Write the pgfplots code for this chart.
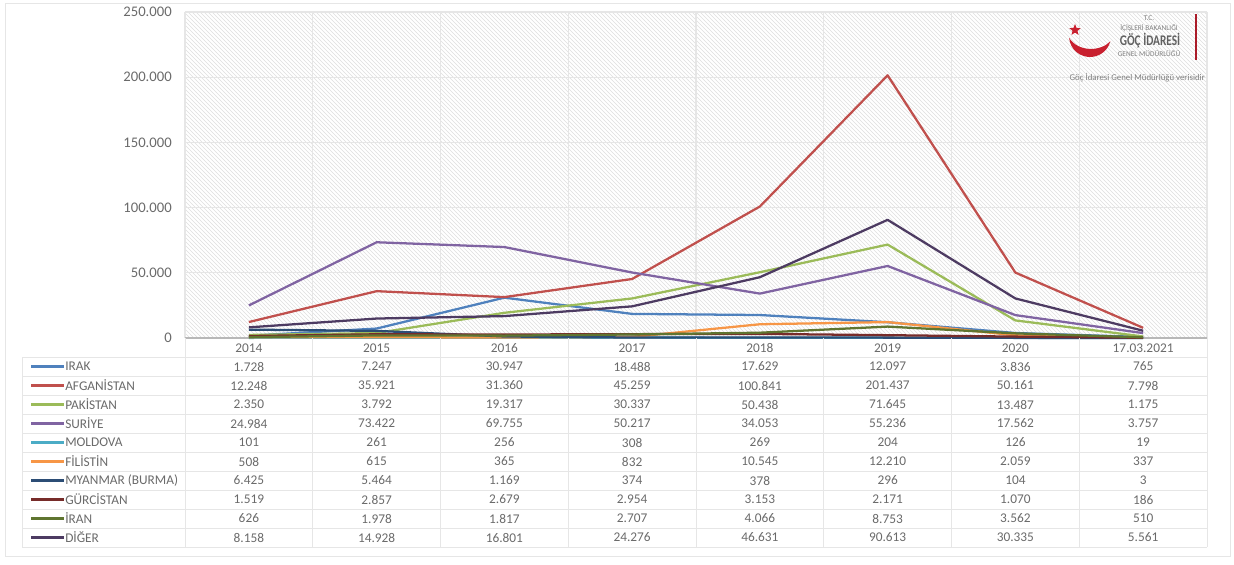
\documentclass[border=0pt]{standalone}
\usepackage{fontspec}
\setmainfont{Carlito}
\usepackage{pgfplots}
\usepackage{pgfplotstable}
\pgfplotsset{compat=1.18}
\usetikzlibrary{patterns,shapes.geometric}

\definecolor{txt}{HTML}{6A6A6A}
\definecolor{gridc}{HTML}{E6E6E6}
\definecolor{cIrak}{HTML}{4F81BD}
\definecolor{cAfg}{HTML}{C0504D}
\definecolor{cPak}{HTML}{9BBB59}
\definecolor{cSur}{HTML}{8064A2}
\definecolor{cMol}{HTML}{4BACC6}
\definecolor{cFil}{HTML}{F79646}
\definecolor{cMya}{HTML}{2C4D75}
\definecolor{cGur}{HTML}{772C2A}
\definecolor{cIran}{HTML}{5F7530}
\definecolor{cDig}{HTML}{4D3B62}
\definecolor{logored}{HTML}{C8202F}

% integer with "." as thousands separator (values < 1.000.000)
\newcommand\thou[1]{%
  \ifnum#1<1000 #1\else
    \edef\tmpa{\the\numexpr(#1-500)/1000\relax}%
    \edef\tmpb{\the\numexpr#1-\tmpa*1000\relax}%
    \tmpa.\ifnum\tmpb<100 0\fi\ifnum\tmpb<10 0\fi\tmpb
  \fi}

% years in rows, countries in columns
\pgfplotstableread{
x irak afg pak sur mol fil mya gur iran dig
0 1728 12248 2350 24984 101 508 6425 1519 626 8158
1 7247 35921 3792 73422 261 615 5464 2857 1978 14928
2 30947 31360 19317 69755 256 365 1169 2679 1817 16801
3 18488 45259 30337 50217 308 832 374 2954 2707 24276
4 17629 100841 50438 34053 269 10545 378 3153 4066 46631
5 12097 201437 71645 55236 204 12210 296 2171 8753 90613
6 3836 50161 13487 17562 126 2059 104 1070 3562 30335
7 765 7798 1175 3757 19 337 3 186 510 5561
}\data

\begin{document}
\begin{tikzpicture}
\begin{scope}[x=0.75pt,y=-0.75pt]
  \path[use as bounding box] (0,0) rectangle (1234,564);
  \draw[gridc, line width=0.6pt] (5,3) rectangle (1230,556);
\end{scope}

\begin{axis}[
    at={(185*0.75pt,-338*0.75pt)},
    anchor=south west,
    scale only axis,
    width=766.5pt,
    height=244.5pt,
    xmin=-0.5, xmax=7.5,
    ymin=0, ymax=250000,
    clip=false,
    axis background/.style={pattern=north west lines, pattern color=black!13},
    axis x line*=bottom,
    axis y line*=left,
    x axis line style={draw=black!28, line width=0.8pt, -},
    y axis line style={draw=none},
    major tick length=0pt,
    minor tick length=0pt,
    xtick={0,...,7},
    xticklabels={2014,2015,2016,2017,2018,2019,2020,17.03.2021},
    minor xtick={-0.5,0.5,...,7.5},
    ytick={0,50000,...,250000},
    scaled y ticks=false,
    ymajorgrids,
    xminorgrids,
    major grid style={gridc, line width=1pt},
    minor grid style={gridc, line width=1pt},
    tick label style={text=txt},
    yticklabel style={font=\fontsize{11}{13}\selectfont, inner sep=0pt, xshift=-9.75pt,
      /pgf/number format/.cd, fixed, 1000 sep={.}, assume math mode=true},
    xticklabel style={font=\fontsize{10}{12}\selectfont, anchor=center, inner sep=0pt, yshift=-7.5pt},
    every axis plot/.append style={line width=1.7pt, line join=round, no markers},
]
\addplot[cIrak] table[x=x, y=irak] {\data};
\addplot[cAfg]  table[x=x, y=afg]  {\data};
\addplot[cPak]  table[x=x, y=pak]  {\data};
\addplot[cSur]  table[x=x, y=sur]  {\data};
\addplot[cMol]  table[x=x, y=mol]  {\data};
\addplot[cFil]  table[x=x, y=fil]  {\data};
\addplot[cMya]  table[x=x, y=mya]  {\data};
\addplot[cGur]  table[x=x, y=gur]  {\data};
\addplot[cIran] table[x=x, y=iran] {\data};
\addplot[cDig]  table[x=x, y=dig]  {\data};
\end{axis}

\begin{scope}[x=0.75pt,y=-0.75pt]
  % data table grid
  \foreach \r in {0,...,10}
    \draw[gridc, line width=0.7pt] (22,{357+19*\r}) -- (1207,{357+19*\r});
  \foreach \c in {0,...,8}
    \draw[gridc, line width=0.7pt] ({185+127.75*\c},338) -- ({185+127.75*\c},547);
  \draw[gridc, line width=0.7pt] (22,357) -- (22,547);
  % rows: legend key, name, values
  \foreach \col/\name/\clr [count=\r from 0] in
    {irak/IRAK/cIrak, afg/AFGANİSTAN/cAfg, pak/PAKİSTAN/cPak, sur/SURİYE/cSur,
     mol/MOLDOVA/cMol, fil/FİLİSTİN/cFil, mya/{MYANMAR (BURMA)}/cMya,
     gur/GÜRCİSTAN/cGur, iran/İRAN/cIran, dig/DİĞER/cDig} {
    \draw[\clr, line width=1.8pt] (31,{366.5+19*\r}) -- (64,{366.5+19*\r});
    \node[anchor=west, inner sep=0pt, text=txt, font=\fontsize{10}{12}\selectfont]
      at (65,{366.5+19*\r}) {\name};
    \foreach \i in {0,...,7} {
      \pgfplotstablegetelem{\i}{\col}\of\data
      \node[inner sep=0pt, text=txt, font=\fontsize{10}{12}\selectfont]
        at ({185+127.75*(\i+0.5)},{366.5+19*\r}) {\thou{\pgfplotsretval}};
    }
  }
  % source logo
  \fill[logored] (1069.08,37.83) arc[start angle=175, end angle=15, radius=21]
    .. controls (1100,52) and (1078,52) .. (1069.08,37.83) -- cycle;
  \node[star, star points=5, star point ratio=2.3, fill=logored, inner sep=0pt, minimum size=9pt]
    at (1075,30) {};
  \draw[logored!85!black, line width=2.2pt] (1196,14) -- (1196,60);
  \begin{scope}[every node/.style={inner sep=0pt, text=black!50}]
    \node[font=\fontsize{5.5}{6}\selectfont] at (1149,18) {T.C.};
    \node[font=\fontsize{5.5}{6}\selectfont] at (1149,28) {İÇİŞLERİ BAKANLIĞI};
    \node[font=\fontsize{8.5}{10}\selectfont\bfseries, text=black!62, yscale=1.3] at (1150,41) {GÖÇ İDARESİ};
    \node[font=\fontsize{5.5}{6}\selectfont] at (1149,54) {GENEL MÜDÜRLÜĞÜ};
    \node[font=\fontsize{6.6}{7}\selectfont, anchor=east] at (1205,78) {Göç İdaresi Genel Müdürlüğü verisidir};
  \end{scope}
\end{scope}
\end{tikzpicture}
\end{document}
